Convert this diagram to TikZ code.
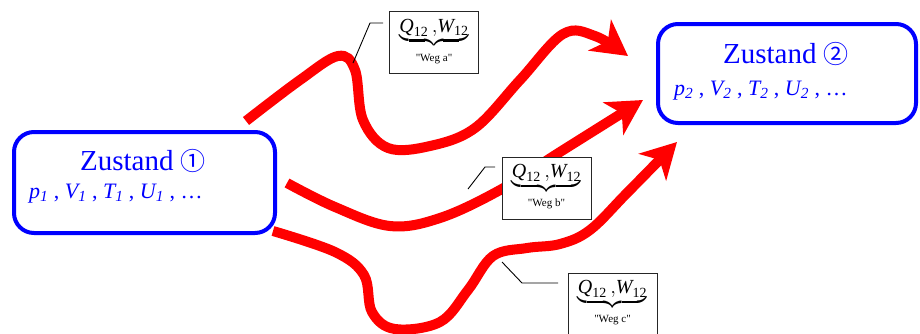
\documentclass[tikz,border=0pt]{standalone}
\usepackage{fontspec}
\usepackage{amsmath}
\setmainfont{Liberation Serif}
\newfontfamily\symfont{Noto Sans CJK SC}
\usetikzlibrary{arrows.meta}
\definecolor{zblue}{RGB}{0,0,255}
\definecolor{zred}{RGB}{255,0,0}
\newcommand{\qwlabel}[1]{$\underbrace{\textit{Q}_{\text{12}}\,,\!\textit{W}_{\text{12}}}_{\text{\fontsize{11}{12}\selectfont\rule{0pt}{13pt}\textquotedbl Weg #1\textquotedbl}}$}
\begin{document}
\begin{tikzpicture}[x=1pt,y=-1pt,
  statebox/.style={draw=zblue, line width=4pt, rounded corners=20pt, inner sep=0pt},
  statetitle/.style={text=zblue, font=\fontsize{29}{33}\selectfont, inner sep=0pt, anchor=base},
  statevars/.style={text=zblue, font=\fontsize{22}{24}\selectfont\itshape, inner sep=0pt, anchor=base west},
  wegpath/.style={draw=zred, line width=10pt, -{Stealth[length=35pt,width=38pt,inset=10pt]}},
  lbox/.style={draw=black!85, line width=0.9pt, fill=white, inner sep=0pt, minimum width=89pt, minimum height=62pt, font=\fontsize{20}{22}\selectfont},
  leader/.style={draw=black, line width=0.9pt}]
\useasboundingbox (0,0) rectangle (920,333);

% state boxes
\node[statebox, minimum width=261pt, minimum height=101pt] (s1) at (144.5,182.5) {};
\node[statetitle] (t1) at (143,170) {Zustand {\symfont\fontsize{25}{26}\selectfont ①}};
\node[statevars] (v1) at (29,198) {p\textsubscript{1} \upshape, \itshape V\textsubscript{1} \upshape, \itshape T\textsubscript{1} \upshape, \itshape U\textsubscript{1} \upshape, …};

\node[statebox, minimum width=258pt, minimum height=99pt] (s2) at (787,73.5) {};
\node[statetitle] (t2) at (786,63) {Zustand {\symfont\fontsize{25}{26}\selectfont ②}};
\node[statevars] (v2) at (674,95) {p\textsubscript{2} \upshape, \itshape V\textsubscript{2} \upshape, \itshape T\textsubscript{2} \upshape, \itshape U\textsubscript{2} \upshape, …};

% red paths
\draw[wegpath] plot[smooth, tension=0.6] coordinates {(246,121) (300,80) (338,56) (355,70) (363,120) (388,148) (430,146) (475,128) (520,80) (563,34) (595,36) (628,56)};
\draw[wegpath] plot[smooth, tension=0.6] coordinates {(287,183) (335,207) (390,226) (440,218) (500,190) (560,152) (643,100)};
\draw[wegpath] plot[smooth, tension=0.6] coordinates {(273,231) (335,252) (364,275) (372,312) (395,329) (440,322) (468,290) (493,256) (527,248) (560,244) (590,230) (627,193) (677,142)};

% label boxes
\node[lbox] (la) at (434,42.5) {\qwlabel{a}};
\node[lbox] (lb) at (546.5,188) {\qwlabel{b}};
\node[lbox] (lc) at (612.5,304) {\qwlabel{c}};

% leaders
\coordinate (a1) at (383,23); \coordinate (a2) at (370,23); \coordinate (a3) at (353,63);
\coordinate (b1) at (495,167); \coordinate (b2) at (485,167); \coordinate (b3) at (468,189);
\coordinate (c1) at (558,283); \coordinate (c2) at (522,283); \coordinate (c3) at (502,262);
\draw[leader] (a1) -- (a2) -- (a3);
\draw[leader] (b1) -- (b2) -- (b3);
\draw[leader] (c1) -- (c2) -- (c3);
\end{tikzpicture}
\end{document}
